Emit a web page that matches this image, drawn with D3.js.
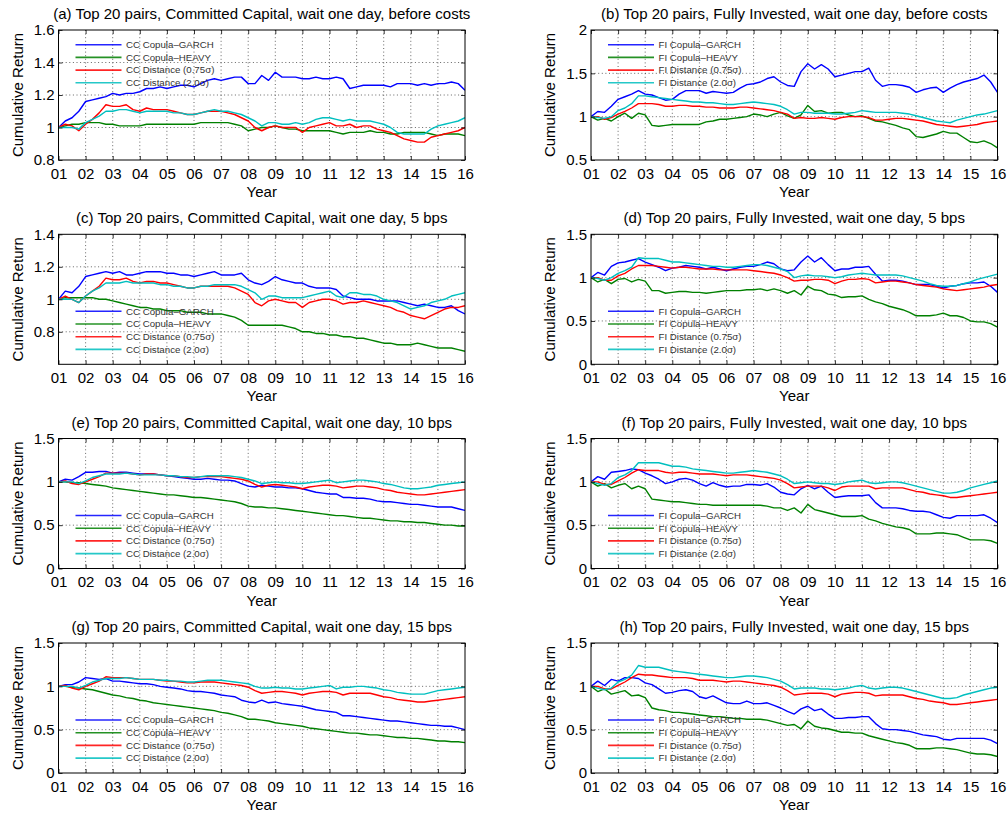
<!DOCTYPE html>
<html>
<head>
<meta charset="utf-8">
<script src="https://cdn.jsdelivr.net/npm/d3@7"></script>
<style>
  html, body { margin: 0; padding: 0; background: #fff; }
  svg { display: block; font-family: "Liberation Sans", Arial, Helvetica, sans-serif; }
</style>
</head>
<body>
<svg id="chart" width="1008" height="816"></svg>
<script>
// Quarterly sampling dates, 2001.00 .. 2016.00
const quarters = d3.range(61).map(i => 2001 + i / 4);
const yearTicks = d3.range(2001, 2017);
const yearLabels = ["01","02","03","04","05","06","07","08","09","10","11","12","13","14","15","16"];

const seriesNames = ["Copula\u2013GARCH", "Copula\u2013HEAVY", "Distance (0.75\u03c3)", "Distance (2.0\u03c3)"];
const seriesColors = ["#0000ff", "#008000", "#ff0000", "#00bfbf"];

// (a) Committed Capital, before costs
const aGarch = [1.00,1.04,1.06,1.10, 1.16,1.17,1.18,1.19, 1.21,1.20,1.21,1.21, 1.22,1.24,1.24,1.25, 1.24,1.25,1.26,1.26, 1.25,1.27,1.29,1.30, 1.29,1.30,1.31,1.31, 1.27,1.27,1.32,1.29, 1.34,1.31,1.31,1.31, 1.30,1.30,1.31,1.30, 1.30,1.31,1.30,1.24, 1.25,1.26,1.26,1.26, 1.26,1.25,1.27,1.27, 1.27,1.26,1.27,1.26, 1.27,1.27,1.28,1.27, 1.23];
const aHeavy = [1.00,1.01,1.02,1.02, 1.03,1.03,1.03,1.02, 1.02,1.01,1.01,1.01, 1.01,1.02,1.02,1.02, 1.02,1.02,1.02,1.02, 1.02,1.03,1.03,1.03, 1.03,1.03,1.02,1.01, 0.98,0.99,1.00,1.00, 1.01,1.00,0.99,0.99, 0.98,0.98,0.98,0.98, 0.98,0.97,0.96,0.97, 0.97,0.97,0.98,0.97, 0.97,0.96,0.96,0.97, 0.97,0.97,0.97,0.96, 0.95,0.96,0.96,0.96, 0.95];
const aDist075 = [1.00,1.02,1.01,0.98, 1.02,1.05,1.09,1.14, 1.13,1.13,1.14,1.11, 1.10,1.12,1.11,1.11, 1.11,1.10,1.09,1.08, 1.08,1.09,1.10,1.10, 1.10,1.09,1.08,1.06, 1.04,1.00,0.98,1.00, 1.01,1.00,1.00,1.00, 0.97,1.00,1.01,1.02, 1.03,1.01,1.01,1.02, 1.00,1.01,1.01,0.99, 0.98,0.97,0.95,0.93, 0.92,0.91,0.91,0.94, 0.95,0.96,0.97,0.98, 1.00];
const aDist20 = [1.00,1.00,1.00,0.99, 1.03,1.05,1.07,1.10, 1.10,1.11,1.11,1.10, 1.09,1.10,1.10,1.10, 1.10,1.09,1.09,1.08, 1.08,1.09,1.10,1.11, 1.10,1.10,1.09,1.08, 1.06,1.04,1.01,1.03, 1.03,1.02,1.02,1.03, 1.02,1.03,1.05,1.06, 1.06,1.05,1.04,1.05, 1.04,1.04,1.04,1.03, 1.02,1.00,0.97,0.96, 0.96,0.96,0.96,0.99, 1.01,1.02,1.03,1.04, 1.06];

// (b) Fully Invested, before costs
const bGarch = [1.00,1.06,1.05,1.12, 1.20,1.23,1.26,1.30, 1.26,1.25,1.22,1.19, 1.20,1.26,1.30,1.30, 1.30,1.27,1.29,1.28, 1.27,1.28,1.33,1.37, 1.38,1.40,1.44,1.46, 1.40,1.36,1.35,1.52, 1.61,1.55,1.60,1.55, 1.46,1.48,1.50,1.52, 1.52,1.56,1.42,1.35, 1.37,1.37,1.36,1.34, 1.28,1.31,1.33,1.34, 1.28,1.33,1.37,1.40, 1.42,1.44,1.48,1.40, 1.28];
const bHeavy = [1.00,0.96,0.98,0.95, 1.00,1.04,0.98,1.04, 1.02,0.90,0.89,0.90, 0.91,0.91,0.91,0.91, 0.91,0.94,0.95,0.97, 0.97,0.98,0.99,1.00, 1.03,1.02,1.00,1.03, 1.05,1.01,0.98,1.02, 1.13,1.06,1.07,1.04, 1.05,1.05,1.02,1.00, 1.01,0.98,0.95,0.94, 0.92,0.90,0.87,0.85, 0.77,0.76,0.78,0.80, 0.83,0.81,0.81,0.76, 0.71,0.70,0.72,0.69, 0.64];
const bDist075 = [1.00,1.00,0.97,0.99, 1.03,1.06,1.10,1.15, 1.15,1.15,1.14,1.12, 1.12,1.13,1.13,1.12, 1.12,1.11,1.11,1.10, 1.10,1.10,1.11,1.11, 1.10,1.09,1.08,1.07, 1.05,1.03,0.98,0.99, 0.98,0.98,0.99,0.98, 0.97,0.99,1.00,1.00, 1.00,0.99,0.96,0.96, 0.97,0.98,0.98,0.97, 0.96,0.95,0.93,0.91, 0.90,0.89,0.88,0.89, 0.90,0.91,0.93,0.94, 0.95];
const bDist20 = [1.00,0.99,0.98,1.00, 1.07,1.10,1.15,1.24, 1.24,1.23,1.22,1.21, 1.20,1.19,1.18,1.17, 1.17,1.16,1.16,1.15, 1.14,1.14,1.15,1.16, 1.17,1.16,1.15,1.14, 1.12,1.08,1.03,1.05, 1.05,1.04,1.04,1.04, 1.03,1.03,1.04,1.05, 1.07,1.06,1.05,1.05, 1.05,1.05,1.04,1.03, 1.01,0.99,0.97,0.95, 0.94,0.93,0.96,0.98, 1.00,1.02,1.03,1.05, 1.07];

// (c) Committed Capital, 5 bps
const cGarch = [1.00,1.05,1.04,1.08, 1.14,1.15,1.16,1.17, 1.16,1.17,1.15,1.15, 1.16,1.17,1.17,1.17, 1.16,1.16,1.15,1.15, 1.14,1.15,1.16,1.17, 1.15,1.15,1.15,1.16, 1.12,1.10,1.09,1.11, 1.14,1.12,1.11,1.10, 1.10,1.08,1.07,1.07, 1.07,1.06,1.02,1.01, 1.00,1.00,1.00,0.99, 0.99,0.99,0.99,0.98, 0.97,0.96,0.97,0.96, 0.95,0.95,0.96,0.93, 0.91];
const cHeavy = [1.00,1.01,1.01,1.01, 1.01,1.01,1.00,1.00, 0.99,0.98,0.97,0.96, 0.95,0.95,0.94,0.94, 0.93,0.93,0.93,0.92, 0.92,0.92,0.91,0.91, 0.91,0.90,0.89,0.87, 0.84,0.84,0.84,0.84, 0.84,0.84,0.83,0.82, 0.80,0.80,0.79,0.79, 0.78,0.78,0.77,0.77, 0.76,0.76,0.75,0.74, 0.73,0.73,0.72,0.72, 0.72,0.73,0.72,0.71, 0.70,0.70,0.70,0.69, 0.68];
const cDist075 = [1.00,1.02,1.00,0.98, 1.02,1.05,1.08,1.13, 1.12,1.12,1.13,1.11, 1.10,1.11,1.11,1.10, 1.10,1.09,1.08,1.07, 1.07,1.08,1.08,1.08, 1.08,1.08,1.07,1.05, 1.03,0.98,0.96,0.99, 1.00,0.99,0.98,0.98, 0.95,0.98,0.99,1.00, 1.00,0.99,0.97,0.98, 0.98,0.99,0.98,0.97, 0.96,0.95,0.93,0.92, 0.90,0.89,0.88,0.90, 0.92,0.94,0.95,0.95, 0.96];
const cDist20 = [1.00,1.00,1.00,0.98, 1.02,1.05,1.07,1.10, 1.10,1.10,1.11,1.10, 1.10,1.10,1.10,1.09, 1.09,1.08,1.08,1.07, 1.07,1.08,1.08,1.09, 1.09,1.09,1.09,1.08, 1.06,1.04,1.00,1.02, 1.02,1.01,1.01,1.01, 1.01,1.02,1.03,1.04, 1.05,1.02,1.01,1.04, 1.04,1.03,1.03,1.02, 1.00,0.99,0.98,0.96, 0.94,0.95,0.96,0.98, 0.99,1.00,1.02,1.03, 1.04];

// (d) Fully Invested, 5 bps
const dGarch = [1.00,1.06,1.03,1.13, 1.17,1.18,1.20,1.22, 1.18,1.15,1.12,1.08, 1.11,1.12,1.14,1.13, 1.12,1.10,1.12,1.10, 1.08,1.10,1.12,1.13, 1.13,1.15,1.18,1.16, 1.10,1.08,1.09,1.18, 1.25,1.18,1.23,1.15, 1.08,1.10,1.10,1.12, 1.12,1.13,1.04,0.96, 0.97,0.97,0.96,0.94, 0.92,0.92,0.92,0.90, 0.88,0.90,0.91,0.93, 0.94,0.94,0.95,0.90, 0.83];
const dHeavy = [1.00,0.95,0.98,0.93, 0.98,0.99,0.95,0.98, 0.96,0.85,0.85,0.82, 0.83,0.84,0.84,0.83, 0.83,0.82,0.83,0.84, 0.85,0.85,0.85,0.86, 0.86,0.87,0.85,0.87, 0.85,0.82,0.85,0.80, 0.90,0.86,0.85,0.81, 0.80,0.77,0.78,0.78, 0.79,0.75,0.72,0.70, 0.67,0.65,0.63,0.60, 0.56,0.56,0.56,0.57, 0.59,0.56,0.56,0.54, 0.50,0.49,0.49,0.47, 0.43];
const dDist075 = [1.00,1.00,0.97,0.97, 1.02,1.05,1.10,1.14, 1.14,1.14,1.13,1.12, 1.11,1.12,1.12,1.11, 1.10,1.10,1.10,1.09, 1.09,1.09,1.09,1.09, 1.08,1.07,1.06,1.05, 1.03,1.00,0.96,0.97, 0.97,0.98,0.98,0.97, 0.93,0.96,0.98,0.98, 0.99,0.98,0.94,0.95, 0.96,0.96,0.95,0.94, 0.92,0.91,0.90,0.89, 0.87,0.86,0.85,0.86, 0.87,0.88,0.89,0.91, 0.92];
const dDist20 = [1.00,0.99,0.97,1.00, 1.05,1.08,1.12,1.23, 1.22,1.22,1.22,1.20, 1.18,1.18,1.17,1.16, 1.15,1.14,1.13,1.13, 1.12,1.12,1.13,1.14, 1.15,1.15,1.14,1.12, 1.10,1.07,1.00,1.02, 1.03,1.02,1.02,1.01, 1.00,1.01,1.03,1.04, 1.05,1.04,1.03,1.03, 1.03,1.03,1.02,1.00, 0.98,0.96,0.93,0.91, 0.90,0.90,0.91,0.93, 0.95,0.98,1.00,1.02, 1.04];

// (e) Committed Capital, 10 bps
const eGarch = [1.00,1.03,1.02,1.06, 1.11,1.11,1.12,1.12, 1.10,1.11,1.11,1.10, 1.09,1.09,1.09,1.08, 1.07,1.06,1.05,1.04, 1.03,1.03,1.04,1.03, 1.02,1.02,1.01,0.98, 0.95,0.94,0.96,0.95, 0.94,0.94,0.93,0.93, 0.92,0.90,0.88,0.87, 0.86,0.86,0.82,0.82, 0.81,0.81,0.80,0.78, 0.77,0.77,0.76,0.75, 0.74,0.74,0.73,0.72, 0.71,0.71,0.71,0.69, 0.67];
const eHeavy = [1.00,1.00,0.99,0.99, 0.98,0.97,0.96,0.95, 0.93,0.92,0.91,0.90, 0.89,0.88,0.87,0.86, 0.85,0.85,0.84,0.83, 0.82,0.82,0.81,0.80, 0.79,0.78,0.77,0.75, 0.72,0.71,0.71,0.70, 0.70,0.69,0.68,0.67, 0.66,0.65,0.64,0.63, 0.62,0.61,0.61,0.60, 0.59,0.58,0.58,0.57, 0.56,0.55,0.55,0.54, 0.54,0.53,0.53,0.52, 0.51,0.50,0.50,0.49, 0.49];
const eDist075 = [1.00,1.01,0.98,0.97, 1.00,1.03,1.06,1.10, 1.10,1.10,1.10,1.09, 1.08,1.09,1.09,1.08, 1.07,1.07,1.06,1.05, 1.05,1.06,1.06,1.06, 1.06,1.05,1.04,1.03, 1.01,0.97,0.94,0.96, 0.97,0.96,0.95,0.94, 0.92,0.94,0.95,0.96, 0.96,0.95,0.93,0.94, 0.95,0.95,0.94,0.93, 0.91,0.90,0.88,0.87, 0.86,0.85,0.85,0.86, 0.87,0.88,0.89,0.90, 0.91];
const eDist20 = [1.00,1.00,1.00,0.98, 1.01,1.05,1.07,1.09, 1.09,1.09,1.10,1.09, 1.08,1.08,1.08,1.08, 1.07,1.07,1.06,1.06, 1.05,1.06,1.07,1.07, 1.07,1.07,1.06,1.05, 1.03,1.01,0.98,0.99, 1.00,0.99,0.99,0.98, 0.98,0.99,1.00,1.01, 1.02,0.99,1.00,1.01, 1.02,1.02,1.01,1.00, 0.98,0.97,0.95,0.93, 0.92,0.92,0.93,0.94, 0.96,0.97,0.98,0.99, 1.00];

// (f) Fully Invested, 10 bps
const fGarch = [1.00,1.06,1.03,1.11, 1.12,1.13,1.15,1.14, 1.10,1.07,1.03,0.98, 1.00,1.03,1.04,1.02, 0.98,0.95,0.99,0.96, 0.94,0.95,0.95,0.97, 0.97,0.96,0.98,0.94, 0.88,0.86,0.85,0.92, 0.96,0.92,0.95,0.88, 0.82,0.83,0.84,0.84, 0.84,0.85,0.76,0.70, 0.70,0.70,0.69,0.67, 0.66,0.66,0.65,0.62, 0.59,0.58,0.61,0.61, 0.61,0.61,0.62,0.58, 0.53];
const fHeavy = [1.00,0.95,0.98,0.93, 0.96,0.98,0.92,0.95, 0.92,0.80,0.79,0.78, 0.77,0.77,0.76,0.75, 0.74,0.74,0.73,0.73, 0.73,0.73,0.73,0.73, 0.73,0.73,0.72,0.70, 0.70,0.67,0.70,0.64, 0.74,0.68,0.66,0.64, 0.62,0.60,0.60,0.60, 0.61,0.57,0.55,0.52, 0.50,0.48,0.47,0.45, 0.40,0.40,0.40,0.41, 0.41,0.40,0.39,0.36, 0.33,0.33,0.33,0.32, 0.29];
const fDist075 = [1.00,1.00,0.97,0.97, 1.01,1.05,1.10,1.14, 1.13,1.13,1.13,1.11, 1.10,1.11,1.11,1.10, 1.09,1.09,1.09,1.08, 1.07,1.08,1.08,1.08, 1.07,1.06,1.05,1.04, 1.02,0.98,0.93,0.94, 0.95,0.95,0.95,0.93, 0.90,0.94,0.95,0.95, 0.95,0.95,0.92,0.93, 0.93,0.93,0.93,0.91, 0.89,0.88,0.86,0.85, 0.84,0.82,0.82,0.83, 0.84,0.85,0.86,0.87, 0.88];
const fDist20 = [1.00,0.98,0.96,0.98, 1.05,1.08,1.13,1.22, 1.22,1.22,1.22,1.20, 1.18,1.18,1.17,1.15, 1.14,1.13,1.12,1.11, 1.10,1.10,1.11,1.12, 1.13,1.12,1.11,1.09, 1.07,1.03,0.98,0.99, 1.00,0.99,0.98,0.98, 0.97,0.98,1.00,1.01, 1.02,0.99,0.98,0.99, 1.00,1.00,0.99,0.97, 0.95,0.93,0.91,0.89, 0.87,0.87,0.88,0.90, 0.93,0.95,0.97,0.99, 1.01];

// (g) Committed Capital, 15 bps
const gGarch = [1.00,1.02,1.02,1.05, 1.10,1.09,1.08,1.09, 1.06,1.06,1.05,1.04, 1.03,1.03,1.02,1.00, 0.99,0.98,0.97,0.95, 0.94,0.94,0.93,0.92, 0.90,0.89,0.88,0.84, 0.82,0.81,0.84,0.81, 0.82,0.80,0.79,0.78, 0.77,0.75,0.73,0.72, 0.71,0.70,0.66,0.66, 0.65,0.64,0.63,0.62, 0.61,0.60,0.60,0.59, 0.58,0.57,0.56,0.55, 0.55,0.54,0.54,0.52, 0.50];
const gHeavy = [1.00,1.00,0.99,0.98, 0.97,0.96,0.94,0.92, 0.90,0.89,0.87,0.86, 0.84,0.83,0.81,0.80, 0.79,0.78,0.77,0.76, 0.75,0.74,0.73,0.72, 0.70,0.69,0.67,0.65, 0.62,0.62,0.61,0.60, 0.58,0.57,0.56,0.55, 0.54,0.52,0.51,0.50, 0.49,0.48,0.47,0.46, 0.46,0.45,0.44,0.44, 0.43,0.42,0.41,0.41, 0.40,0.40,0.39,0.38, 0.37,0.37,0.36,0.36, 0.35];
const gDist075 = [1.00,1.01,0.98,0.96, 1.00,1.03,1.06,1.11, 1.10,1.10,1.10,1.09, 1.08,1.08,1.08,1.07, 1.06,1.06,1.05,1.04, 1.04,1.05,1.05,1.05, 1.04,1.03,1.02,1.01, 0.99,0.95,0.92,0.93, 0.94,0.94,0.93,0.92, 0.90,0.92,0.93,0.94, 0.94,0.93,0.90,0.92, 0.92,0.92,0.92,0.90, 0.88,0.87,0.85,0.84, 0.83,0.82,0.82,0.83, 0.84,0.85,0.86,0.87, 0.88];
const gDist20 = [1.00,1.00,1.00,0.98, 1.01,1.05,1.07,1.09, 1.09,1.09,1.10,1.09, 1.08,1.08,1.08,1.07, 1.07,1.06,1.06,1.05, 1.05,1.06,1.07,1.07, 1.07,1.06,1.05,1.04, 1.03,1.00,0.98,0.98, 0.99,0.98,0.98,0.97, 0.97,0.98,0.99,1.00, 1.01,0.97,0.99,0.99, 1.00,1.00,0.99,0.98, 0.96,0.95,0.93,0.92, 0.91,0.91,0.91,0.93, 0.95,0.96,0.97,0.98, 0.99];

// (h) Fully Invested, 15 bps
const hGarch = [1.00,1.06,1.01,1.08, 1.06,1.10,1.10,1.09, 1.04,1.02,0.97,0.92, 0.93,0.95,0.96,0.94, 0.88,0.86,0.89,0.85, 0.81,0.80,0.80,0.83, 0.80,0.80,0.81,0.78, 0.75,0.71,0.68,0.74, 0.77,0.72,0.74,0.68, 0.63,0.63,0.64,0.64, 0.65,0.65,0.57,0.51, 0.50,0.50,0.49,0.48, 0.46,0.44,0.43,0.42, 0.39,0.38,0.40,0.40, 0.40,0.40,0.40,0.38, 0.34];
const hHeavy = [1.00,0.94,0.97,0.91, 0.93,0.95,0.89,0.90, 0.87,0.75,0.73,0.72, 0.70,0.70,0.69,0.68, 0.67,0.66,0.65,0.65, 0.64,0.63,0.63,0.62, 0.62,0.62,0.61,0.59, 0.57,0.55,0.56,0.51, 0.60,0.54,0.52,0.51, 0.49,0.47,0.47,0.46, 0.46,0.43,0.41,0.39, 0.37,0.35,0.34,0.32, 0.28,0.28,0.28,0.29, 0.29,0.28,0.27,0.25, 0.23,0.22,0.22,0.21, 0.19];
const hDist075 = [1.00,1.00,0.97,0.97, 1.01,1.05,1.10,1.14, 1.13,1.13,1.12,1.11, 1.10,1.10,1.10,1.09, 1.07,1.07,1.07,1.06, 1.05,1.06,1.06,1.05, 1.04,1.03,1.02,1.01, 0.99,0.95,0.90,0.91, 0.92,0.92,0.92,0.91, 0.88,0.91,0.92,0.93, 0.93,0.92,0.89,0.90, 0.90,0.90,0.90,0.88, 0.86,0.85,0.83,0.82, 0.81,0.79,0.79,0.80, 0.81,0.82,0.83,0.84, 0.85];
const hDist20 = [1.00,0.98,0.96,0.98, 1.05,1.08,1.13,1.24, 1.22,1.22,1.22,1.20, 1.18,1.17,1.16,1.15, 1.14,1.13,1.12,1.11, 1.10,1.10,1.11,1.12, 1.12,1.11,1.10,1.08, 1.06,1.02,0.97,0.98, 0.98,0.98,0.97,0.97, 0.96,0.97,0.98,1.00, 1.01,0.98,0.97,0.98, 0.99,0.99,0.98,0.96, 0.94,0.92,0.90,0.88, 0.86,0.86,0.87,0.90, 0.92,0.94,0.96,0.98, 0.99];

const panelTitles = [
  "(a) Top 20 pairs, Committed Capital, wait one day, before costs",
  "(b) Top 20 pairs, Fully Invested, wait one day, before costs",
  "(c) Top 20 pairs, Committed Capital, wait one day, 5 bps",
  "(d) Top 20 pairs, Fully Invested, wait one day, 5 bps",
  "(e) Top 20 pairs, Committed Capital, wait one day, 10 bps",
  "(f) Top 20 pairs, Fully Invested, wait one day, 10 bps",
  "(g) Top 20 pairs, Committed Capital, wait one day, 15 bps",
  "(h) Top 20 pairs, Fully Invested, wait one day, 15 bps"
];
const panelPrefixes = ["CC", "FI", "CC", "FI", "CC", "FI", "CC", "FI"];
const panelSeries = [
  [aGarch, aHeavy, aDist075, aDist20],
  [bGarch, bHeavy, bDist075, bDist20],
  [cGarch, cHeavy, cDist075, cDist20],
  [dGarch, dHeavy, dDist075, dDist20],
  [eGarch, eHeavy, eDist075, eDist20],
  [fGarch, fHeavy, fDist075, fDist20],
  [gGarch, gHeavy, gDist075, gDist20],
  [hGarch, hHeavy, hDist075, hDist20]
];
const panelYDomains = [[0.8, 1.6], [0.5, 2], [0.6, 1.4], [0, 1.5], [0, 1.5], [0, 1.5], [0, 1.5], [0, 1.5]];
const panelYTicks = [
  [0.8, 1, 1.2, 1.4, 1.6],
  [0.5, 1, 1.5, 2],
  [0.8, 1, 1.2, 1.4],
  [0, 0.5, 1, 1.5],
  [0, 0.5, 1, 1.5],
  [0, 0.5, 1, 1.5],
  [0, 0.5, 1, 1.5],
  [0, 0.5, 1, 1.5]
];
// legend sits at the top of the first row, lower in the others
const legendAtTop = [true, true, false, false, false, false, false, false];

// ---- layout ----
const colLeft = [58.5, 591];
const rowTop = [30, 234.3, 438.5, 643];
const plotW = 406.5;
const plotH = 130;
const labelSize = 15;

const svg = d3.select("#chart");

panelTitles.forEach((title, p) => {
  const col = p % 2, row = Math.floor(p / 2);
  const g = svg.append("g").attr("transform", `translate(${colLeft[col]},${rowTop[row]})`);

  const x = d3.scaleLinear().domain([2001, 2016]).range([0, plotW]);
  const y = d3.scaleLinear().domain(panelYDomains[p]).range([plotH, 0]);

  // dotted grid
  const grid = g.append("g").attr("stroke", "#000").attr("stroke-width", 0.8)
    .attr("stroke-dasharray", "1,2.6").attr("opacity", 0.75);
  grid.selectAll("line.vx").data(yearTicks.slice(1, -1)).join("line")
    .attr("x1", d => x(d)).attr("x2", d => x(d)).attr("y1", 0).attr("y2", plotH);
  grid.selectAll("line.hy").data(panelYTicks[p].filter(v => v > panelYDomains[p][0] && v < panelYDomains[p][1])).join("line")
    .attr("x1", 0).attr("x2", plotW).attr("y1", d => y(d)).attr("y2", d => y(d));

  // series
  const clipId = "clip" + p;
  g.append("clipPath").attr("id", clipId).append("rect").attr("width", plotW).attr("height", plotH);
  const line = d3.line().x((d, i) => x(quarters[i])).y(d => y(d));
  const lines = g.append("g").attr("clip-path", `url(#${clipId})`);
  panelSeries[p].forEach((vals, s) => {
    lines.append("path").datum(vals)
      .attr("fill", "none").attr("stroke", seriesColors[s]).attr("stroke-width", 1.4)
      .attr("stroke-linejoin", "round").attr("d", line);
  });

  // axes with inward ticks
  const xAxis = g.append("g").attr("transform", `translate(0,${plotH})`)
    .call(d3.axisBottom(x).tickValues(yearTicks).tickFormat((d, i) => yearLabels[i])
      .tickSizeInner(-4).tickSizeOuter(0).tickPadding(8));
  const xTop = g.append("g")
    .call(d3.axisTop(x).tickValues(yearTicks).tickFormat("").tickSizeInner(-4).tickSizeOuter(0));
  const yAxis = g.append("g")
    .call(d3.axisLeft(y).tickValues(panelYTicks[p]).tickFormat(d => String(d))
      .tickSizeInner(-4).tickSizeOuter(0).tickPadding(4));
  const yRight = g.append("g").attr("transform", `translate(${plotW},0)`)
    .call(d3.axisRight(y).tickValues(panelYTicks[p]).tickFormat("").tickSizeInner(-4).tickSizeOuter(0));
  [xAxis, xTop, yAxis, yRight].forEach(a => {
    a.select(".domain").remove();
    a.selectAll(".tick line").attr("stroke", "#000").attr("stroke-width", 0.8);
    a.selectAll(".tick text").attr("fill", "#000").attr("font-size", labelSize)
      .attr("font-family", "'Liberation Sans', Arial, sans-serif");
  });

  // frame
  g.append("rect").attr("width", plotW).attr("height", plotH)
    .attr("fill", "none").attr("stroke", "#000").attr("stroke-width", 1);

  // labels
  g.append("text").attr("x", plotW / 2).attr("y", -11).attr("text-anchor", "middle")
    .attr("font-size", labelSize).attr("fill", "#000").text(title);
  g.append("text").attr("x", plotW / 2).attr("y", plotH + 37).attr("text-anchor", "middle")
    .attr("font-size", labelSize).attr("fill", "#000").text("Year");
  g.append("text").attr("transform", `translate(${-36},${plotH / 2}) rotate(-90)`)
    .attr("text-anchor", "middle").attr("font-size", labelSize).attr("fill", "#000").text("Cumulative Return");

  // legend (no frame)
  const legTop = legendAtTop[p] ? 14.7 : 77;
  const leg = g.append("g").attr("transform", `translate(0,${legTop})`);
  seriesNames.forEach((name, s) => {
    const yy = s * 12.7;
    leg.append("line").attr("x1", 17).attr("x2", 63).attr("y1", yy).attr("y2", yy)
      .attr("stroke", seriesColors[s]).attr("stroke-width", 1.6).attr("opacity", 0.85);
    leg.append("text").attr("x", 67.5).attr("y", yy).attr("dy", "0.35em")
      .attr("font-size", 9.7).attr("fill", "#333").text(panelPrefixes[p] + " " + name);
  });
});
</script>
</body>
</html>
